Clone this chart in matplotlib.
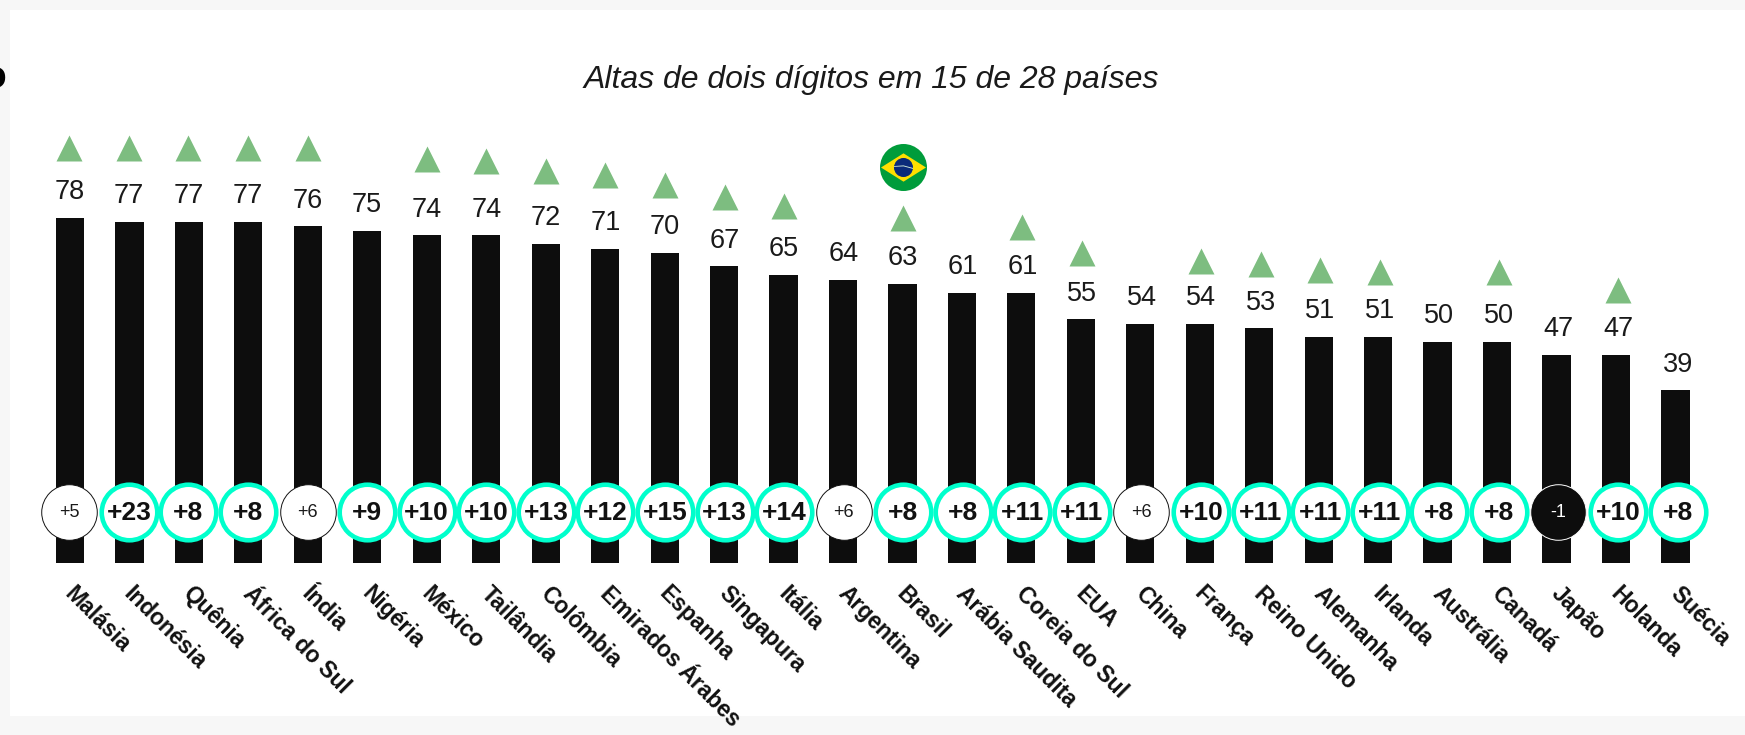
#!/usr/bin/env python3
# -*- coding: utf-8 -*-

import matplotlib
matplotlib.use("Agg")
import matplotlib.pyplot as plt
from matplotlib.patches import Rectangle

countries = ["Malásia", "Indonésia", "Quênia", "África do Sul", "Índia", "Nigéria", "México",
             "Tailândia", "Colômbia", "Emirados Árabes", "Espanha", "Singapura", "Itália",
             "Argentina", "Brasil", "Arábia Saudita", "Coreia do Sul", "EUA", "China", "França",
             "Reino Unido", "Alemanha", "Irlanda", "Austrália", "Canadá", "Japão", "Holanda", "Suécia"]
values = [78, 77, 77, 77, 76, 75, 74, 74, 72, 71, 70, 67, 65, 64, 63, 61, 61, 55, 54, 54, 53, 51, 51, 50, 50, 47, 47, 39]
changes = [5, 23, 8, 8, 6, 9, 10, 10, 13, 12, 15, 13, 14, 6, 8, 8, 11, 11, 6, 10, 11, 11, 11, 8, 8, -1, 10, 8]
# height of each green arrow on the bar scale, None = no arrow
arrows = [93.6, 93.6, 93.6, 93.6, 93.6, None, 91.3, 90.8, 88.4, 87.7, 85.4, 82.7, 80.7, None, 78.0, None,
          75.9, 70.0, None, 68.3, 67.6, 66.2, 65.6, None, 65.8, None, 61.7, None]

fig = plt.figure(figsize=(17.45, 7.35), dpi=100, facecolor="#f7f7f7")
plt.rcParams["font.family"] = ["Liberation Sans", "DejaVu Sans"]
ax = fig.add_axes([0, 0, 1, 1])
ax.set_xlim(-1.177, 28.17)
ax.set_ylim(-38.8, 127.1)
ax.axis("off")

# white panel
ax.add_patch(Rectangle((10 / 1745, 19 / 735), 1, 706 / 735, transform=ax.transAxes,
                       facecolor="white", edgecolor="none", zorder=0))

x = list(range(len(countries)))
ax.bar(x, values, width=0.474, color="#0d0d0d", zorder=1)

for i, country in enumerate(countries):
    cx = i * 1.0018 - 0.012
    ax.annotate(str(values[i]), (cx, values[i]), xytext=(0, 18.5), textcoords="offset points",
                ha="center", va="center", fontsize=19.5, color="#1a1a1a", zorder=3)
    if arrows[i] is not None:
        ax.scatter(cx, arrows[i], marker="^", s=350, color="#7dbd80", linewidths=0, zorder=3)

    change = changes[i]
    label = f"{change:+d}"
    if change < 0:
        ax.scatter(cx, 11.5, s=1600, facecolor="#0d0d0d", edgecolor="white", linewidths=0.7, zorder=2)
        ax.text(cx, 11.4, label, ha="center", va="center", fontsize=13, color="white", zorder=3)
    elif change <= 6:
        ax.scatter(cx, 11.5, s=1600, facecolor="white", edgecolor="#111111", linewidths=0.7, zorder=2)
        ax.text(cx, 11.4, label, ha="center", va="center", fontsize=13, color="#1a1a1a", zorder=3)
    else:
        ax.scatter(cx, 11.5, s=1600, facecolor="white", edgecolor="#00ffcc", linewidths=3.3, zorder=2)
        ax.text(cx, 11.3, label, ha="center", va="center", fontsize=19, fontweight="bold", color="#111111", zorder=3)

    ax.annotate(country, (i, 0), xytext=(4.5, -13.5), textcoords="offset points", rotation=-45,
                rotation_mode="anchor", ha="left", va="top", fontsize=16.5, fontweight="bold",
                color="#111111", annotation_clip=False, zorder=3)

# bandeira do Brasil
flag_x = 14 * 1.0018 - 0.012
ax.scatter(flag_x, 89.5, s=1145, color="#009c3b", linewidths=0, zorder=3)
ax.scatter(flag_x, 89.5, marker=[(-1, 0), (0, 0.63), (1, 0), (0, -0.63)], s=1050, color="#ffdf00", linewidths=0, zorder=4)
ax.scatter(flag_x, 89.5, s=188, color="#0a2a7a", linewidths=0, zorder=5)
ax.scatter(flag_x, 89.5, marker=[(-1, 0.15), (0, 0.22), (1, -0.05), (1, -0.15), (0, 0.12), (-1, 0.07)],
           s=188, color="#cfe8d8", linewidths=0, zorder=6)

fig.text(871 / 1745, 1 - 80 / 735, "Altas de dois dígitos em 15 de 28 países", ha="center", va="center",
         fontsize=23, fontstyle="italic", color="#1a1a1a")
fig.text(-18 / 1745, 1 - 88 / 735, "o", ha="left", va="baseline", fontsize=28, fontweight="bold", color="black")

fig.savefig("out.png", dpi=100, facecolor=fig.get_facecolor())
